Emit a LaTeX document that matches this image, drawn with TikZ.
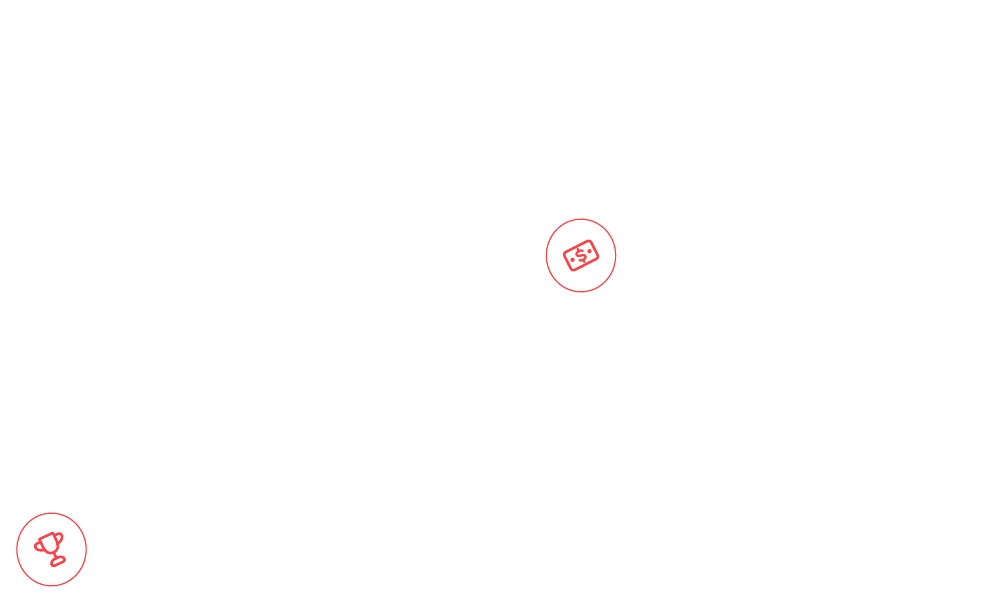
\documentclass[tikz,border=0pt]{standalone}
\usepackage{tikz}
\usetikzlibrary{shapes.geometric}
\definecolor{iconred}{RGB}{250,68,74}

\begin{document}
\begin{tikzpicture}[
    x=0.75pt, y=-0.75pt,
    badge/.style={ellipse, draw=iconred, line width=0.9pt, minimum width=52pt, minimum height=54.5pt, inner sep=0pt},
    glyph/.style={draw=iconred, line width=1.9pt, line cap=round, line join=round},
    spot/.style={circle, fill=iconred, minimum size=3.2pt, inner sep=0pt}
  ]
    \useasboundingbox (0,0) rectangle (991,606);

    % circles
    \node[badge] (money) at (581,255.5) {};
    \node[badge] (trophy) at (51.5,549.5) {};

    % banknote
    \begin{scope}[shift={(money.center)}, rotate=27]
      \draw[glyph, rounded corners=2pt] (-15,-10) rectangle (15,10);
      \node[spot] (dotL) at (-9.5,0) {};
      \node[spot] (dotR) at (9.5,0) {};
      \draw[glyph, line width=1.7pt] (3.6,-3.4) .. controls (2.6,-5.6) and (-3.8,-5.6) .. (-3.8,-2.4)
        .. controls (-3.8,0.8) and (3.8,-0.8) .. (3.8,2.4)
        .. controls (3.8,5.6) and (-2.6,5.6) .. (-3.6,3.4);
      \draw[glyph, line width=1.7pt] (0,-7.4) -- (0,-5);
      \draw[glyph, line width=1.7pt] (0,5) -- (0,7.4);
    \end{scope}

    % trophy
    \begin{scope}[shift={(trophy.center)}, rotate=25, xshift=0.6pt]
      \draw[glyph] (-7.5,-14.5) -- (7.5,-14.5) -- (7.5,-5.5)
        .. controls (7.5,0.5) and (4.5,3.5) .. (0,3.5)
        .. controls (-4.5,3.5) and (-7.5,0.5) .. (-7.5,-5.5) -- cycle;
      % handles
      \draw[glyph] (-7.5,-11.5) -- (-12,-11.5) .. controls (-14,-11.5) and (-14.5,-10) .. (-14.5,-8.5)
        .. controls (-14.5,-5.5) and (-11,-3) .. (-6.5,-2.5);
      \draw[glyph] (7.5,-11.5) -- (12,-11.5) .. controls (14,-11.5) and (14.5,-10) .. (14.5,-8.5)
        .. controls (14.5,-5.5) and (11,-3) .. (6.5,-2.5);
      % stem and base
      \draw[glyph] (0,3.5) -- (0,10);
      \draw[glyph, rounded corners=2.5pt] (-8,16) -- (8,16) -- (6,10) -- (-6,10) -- cycle;
    \end{scope}
  \end{tikzpicture}
\end{document}
